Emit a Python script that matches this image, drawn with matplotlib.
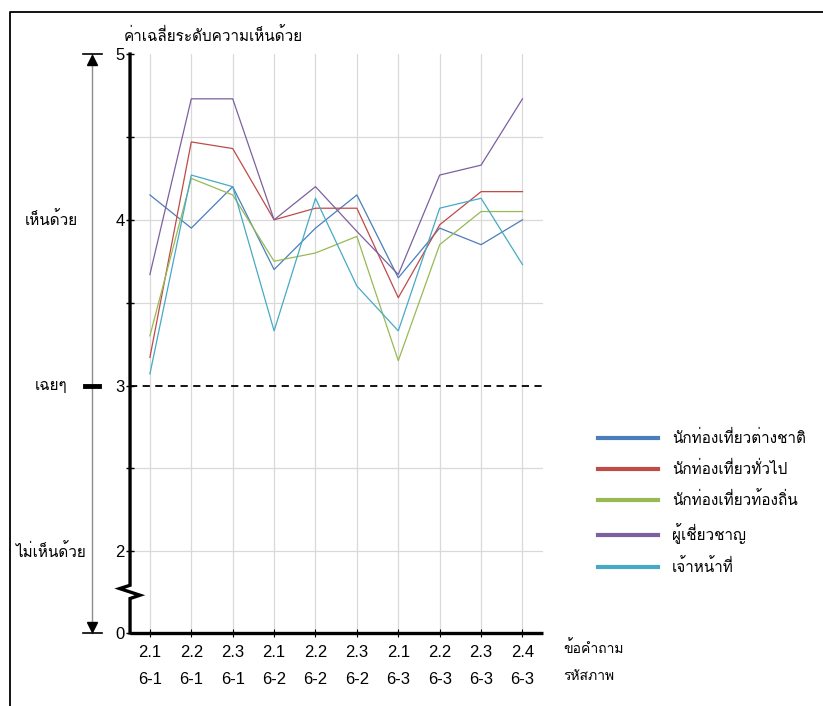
import matplotlib
matplotlib.use("Agg")
import matplotlib.pyplot as plt
from matplotlib.lines import Line2D
from matplotlib.transforms import blended_transform_factory

plt.rcParams['font.family'] = ['Liberation Sans', 'Loma', 'DejaVu Sans']

# =====================
# DATA
# =====================
items = ["2.1", "2.2", "2.3", "2.1", "2.2", "2.3", "2.1", "2.2", "2.3", "2.4"]
pics = ["6-1", "6-1", "6-1", "6-2", "6-2", "6-2", "6-3", "6-3", "6-3", "6-3"]

foreign = [4.15, 3.95, 4.20, 3.70, 3.95, 4.15, 3.65, 3.95, 3.85, 4.00]
general = [3.17, 4.47, 4.43, 4.00, 4.07, 4.07, 3.53, 3.97, 4.17, 4.17]
local = [3.30, 4.25, 4.15, 3.75, 3.80, 3.90, 3.15, 3.85, 4.05, 4.05]
experts = [3.67, 4.73, 4.73, 4.00, 4.20, 3.93, 3.67, 4.27, 4.33, 4.73]
officials = [3.07, 4.27, 4.20, 3.33, 4.13, 3.60, 3.33, 4.07, 4.13, 3.73]

series = [
    ("นักท่องเที่ยวต่างชาติ", foreign, "#4a7ebb"),
    ("นักท่องเที่ยวทั่วไป", general, "#be4b48"),
    ("นักท่องเที่ยวท้องถิ่น", local, "#98b954"),
    ("ผู้เชี่ยวชาญ", experts, "#7d60a0"),
    ("เจ้าหน้าที่", officials, "#46aac5"),
]

Y_ZERO = 1.507   # where "0" sits on the broken axis
FS_NUM = 12      # digits
FS_TH = 11       # thai text

# =====================
fig = plt.figure(figsize=(8.23, 7.06), dpi=100)
ax = fig.add_axes([0.158, 0.1034, 0.502, 0.820])

x = list(range(len(items)))
for name, vals, col in series:
    ax.plot(x, vals, color=col, lw=0.9, label=name, zorder=3)

ax.set_xlim(-0.48, 9.5)
ax.set_ylim(Y_ZERO, 5)

# grid
for v in [2, 2.5, 3.5, 4, 4.5]:
    ax.axhline(v, color="#d9d9d9", lw=0.9, zorder=1)
for xi in x:
    ax.axvline(xi, color="#d9d9d9", lw=0.9, zorder=1)
ax.axhline(3, color="black", lw=1.3, ls=(0, (4, 3)), zorder=2)

# spines
ax.spines['top'].set_visible(False)
ax.spines['right'].set_visible(False)
ax.spines['left'].set_visible(False)
ax.spines['bottom'].set_linewidth(2.4)
ax.spines['bottom'].set_capstyle('butt')

# broken y axis drawn by hand
bt = blended_transform_factory(ax.transAxes, ax.transData)
ax.plot([0, 0, -0.025, 0.024, 0, 0], [5, 1.795, 1.775, 1.735, 1.715, Y_ZERO],
        color="black", lw=2.4, transform=bt, clip_on=False, zorder=5,
        solid_joinstyle='miter')

ax.set_yticks([Y_ZERO, 2, 3, 4, 5])
ax.set_yticklabels(["0", "2", "3", "4", "5"], fontsize=FS_NUM)
ax.set_yticks([2.5, 3.5, 4.5], minor=True)
ax.tick_params(axis='y', which='both', direction='inout', length=6, width=1, pad=1)
ax.set_xticks(x)
ax.set_xticklabels([f"{a}\n\n{b}" for a, b in zip(items, pics)], fontsize=FS_NUM,
                   linespacing=0.85)
ax.tick_params(axis='x', direction='inout', length=6, width=0.8, pad=6)

# titles
fig.text(124 / 823, 1 - 36 / 706, "ค่าเฉลี่ยระดับความเห็นด้วย", fontsize=FS_TH,
         ha="left", va="center")
fig.text(563 / 823, 1 - 648 / 706, "ข้อคำถาม", fontsize=10, ha="left", va="center")
fig.text(563 / 823, 1 - 676 / 706, "รหัสภาพ", fontsize=10, ha="left", va="center")

# left scale arrow
ft = fig.transFigure
ax.plot([-0.092, -0.092], [5, Y_ZERO], color="#8c8c8c", lw=1, transform=bt, clip_on=False)
ax.plot([-0.092], [4.965], marker="^", ms=7, color="black", transform=bt, clip_on=False)
ax.plot([-0.092], [Y_ZERO + 0.035], marker="v", ms=7, color="black", transform=bt, clip_on=False)
ax.plot([-0.115, -0.069], [5, 5], color="black", lw=1.2, transform=bt, clip_on=False)
ax.plot([-0.115, -0.069], [Y_ZERO, Y_ZERO], color="black", lw=1.2, transform=bt, clip_on=False)
ax.plot([-0.109, -0.075], [3, 3], color="black", lw=3.5, transform=bt, clip_on=False)

for lab, v, xc in [("เห็นด้วย", 4, 51), ("เฉยๆ", 3, 51), ("ไม่เห็นด้วย", 2, 50.5)]:
    ax.text(xc / 823, v, lab, transform=blended_transform_factory(ft, ax.transData),
            fontsize=FS_TH, ha="center", va="center")

# page frame (top and left)
fig.add_artist(Line2D([10 / 823, 10 / 823, 1], [0, 1 - 12 / 706, 1 - 12 / 706],
                      transform=ft, color="black", lw=1.3))

leg = ax.legend(loc="upper left", bbox_to_anchor=(592 / 823, 1 - 424 / 706),
                bbox_transform=ft, frameon=False, fontsize=FS_TH,
                handlelength=3.9, handletextpad=0.95, labelspacing=0.95,
                borderaxespad=0)
for ln in leg.get_lines():
    ln.set_linewidth(3)

fig.savefig("out.png", dpi=100)
